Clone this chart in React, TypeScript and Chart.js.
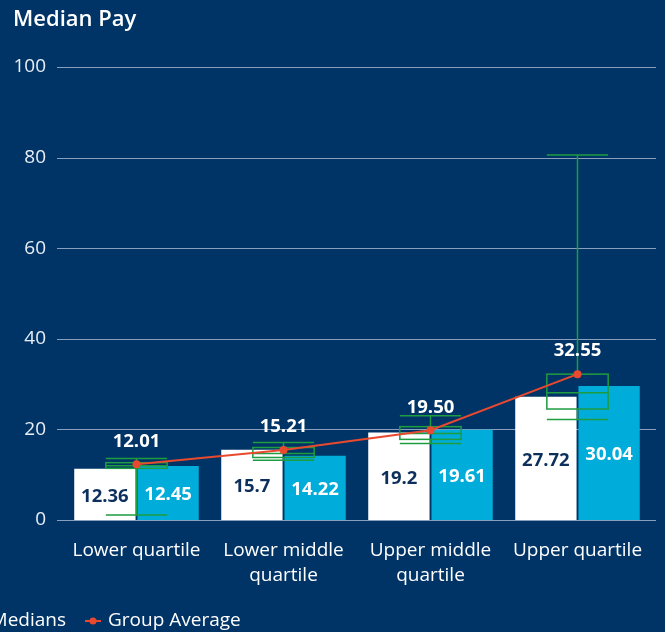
import React, { useEffect, useRef } from "react";
import { Chart, registerables } from "chart.js";
Chart.register(...registerables);

const categories = [["Lower quartile"], ["Lower middle", "quartile"], ["Upper middle", "quartile"], ["Upper quartile"]];
const yTicks = [0, 20, 40, 60, 80, 100];
const seriesAValues = [11.3, 15.5, 19.3, 27.2];
const seriesALabels = ["12.36", "15.7", "19.2", "27.72"];
const seriesBValues = [11.9, 14.2, 19.9, 29.6];
const seriesBLabels = ["12.45", "14.22", "19.61", "30.04"];
const groupAverage = [12.3, 15.45, 19.8, 32.2];
const groupAverageLabels = ["12.01", "15.21", "19.50", "32.55"];
const boxMin = [1.1, 13.2, 16.9, 22.2];
const boxQ1 = [11.4, 13.8, 17.8, 24.5];
const boxMedian = [12.0, 14.7, 19.1, 28.1];
const boxQ3 = [12.65, 16.0, 20.6, 32.2];
const boxMax = [13.6, 17.1, 23.0, 80.6];

const BG = "#003466";
const BLUE = "#00acd9";
const GREEN = "#1d9c40";
const RED = "#e8492f";
const FONT = "'Open Sans'";

const customPlugin = {
  id: "customDraw",
  beforeDatasetsDraw(chart: any) {
    const { ctx, chartArea, scales } = chart;
    ctx.save();
    ctx.strokeStyle = "rgba(160,180,205,0.85)";
    ctx.lineWidth = 1.2;
    yTicks.forEach((v) => {
      const y = Math.round(scales.y.getPixelForValue(v)) + 0.5;
      ctx.beginPath();
      ctx.moveTo(chartArea.left - 6, y);
      ctx.lineTo(chartArea.right + 5, y);
      ctx.stroke();
    });
    ctx.restore();
  },
  afterDatasetDraw(chart: any, args: any) {
    if (args.index !== 0) return;
    const { ctx, scales } = chart;
    const meta = chart.getDatasetMeta(0);
    ctx.save();
    ctx.strokeStyle = GREEN;
    ctx.lineWidth = 1.5;
    categories.forEach((_, i) => {
      const x = scales.x.getPixelForValue(i);
      const w = meta.data[i].width;
      const yMin = scales.y.getPixelForValue(boxMin[i]);
      const yQ1 = scales.y.getPixelForValue(boxQ1[i]);
      const yMed = scales.y.getPixelForValue(boxMedian[i]);
      const yQ3 = scales.y.getPixelForValue(boxQ3[i]);
      const yMax = scales.y.getPixelForValue(boxMax[i]);
      ctx.beginPath();
      ctx.moveTo(x, yMax);
      ctx.lineTo(x, yQ3);
      ctx.moveTo(x, yQ1);
      ctx.lineTo(x, yMin);
      ctx.moveTo(x - w / 2, yMax);
      ctx.lineTo(x + w / 2, yMax);
      ctx.moveTo(x - w / 2, yMin);
      ctx.lineTo(x + w / 2, yMin);
      ctx.moveTo(x - w / 2, yMed);
      ctx.lineTo(x + w / 2, yMed);
      ctx.stroke();
      ctx.strokeRect(x - w / 2, yQ3, w, yQ1 - yQ3);
    });
    ctx.restore();
  },
  afterDatasetsDraw(chart: any) {
    const { ctx, scales } = chart;
    ctx.save();
    ctx.textAlign = "center";
    ctx.textBaseline = "middle";
    ctx.font = `bold 18.5px ${FONT}`;
    const metaA = chart.getDatasetMeta(0);
    const metaB = chart.getDatasetMeta(1);
    const y0 = scales.y.getPixelForValue(0);
    categories.forEach((_, i) => {
      const a = metaA.data[i];
      ctx.fillStyle = "#0d2f5c";
      ctx.fillText(seriesALabels[i], a.x, (a.y + y0) / 2 + 2);
      const b = metaB.data[i];
      ctx.fillStyle = "#ffffff";
      ctx.fillText(seriesBLabels[i], b.x, (b.y + y0) / 2 + 2);
      const x = scales.x.getPixelForValue(i);
      const ya = scales.y.getPixelForValue(groupAverage[i]);
      ctx.fillText(groupAverageLabels[i], x, ya - 23);
    });
    ctx.restore();
  },
  afterDraw(chart: any) {
    const { ctx } = chart;
    ctx.save();
    ctx.fillStyle = "#ffffff";
    ctx.textBaseline = "middle";
    ctx.textAlign = "left";
    ctx.font = `600 22px ${FONT}`;
    ctx.fillText("Median Pay", 13, 20);
    // legend
    ctx.font = `19px ${FONT}`;
    ctx.textAlign = "right";
    ctx.fillText("Medians", 66, 621);
    ctx.strokeStyle = RED;
    ctx.lineWidth = 2;
    ctx.beginPath();
    ctx.moveTo(85, 621);
    ctx.lineTo(101, 621);
    ctx.stroke();
    ctx.fillStyle = RED;
    ctx.beginPath();
    ctx.arc(93, 621, 3.5, 0, Math.PI * 2);
    ctx.fill();
    ctx.fillStyle = "#ffffff";
    ctx.textAlign = "left";
    ctx.fillText("Group Average", 108, 621);
    ctx.restore();
  },
};

export default function App() {
  const ref = useRef<HTMLCanvasElement>(null);
  useEffect(() => {
    if (!ref.current) return;
    const chart = new Chart(ref.current, {
      type: "bar",
      data: {
        labels: categories as any,
        datasets: [
          {
            type: "bar",
            label: "Medians",
            data: seriesAValues,
            backgroundColor: "#ffffff",
            categoryPercentage: 0.86,
            barPercentage: 0.97,
            order: 0,
          },
          {
            type: "bar",
            label: "Medians B",
            data: seriesBValues,
            backgroundColor: BLUE,
            categoryPercentage: 0.86,
            barPercentage: 0.97,
            order: 0,
          },
          {
            type: "line",
            label: "Group Average",
            data: groupAverage,
            borderColor: RED,
            backgroundColor: RED,
            borderWidth: 2,
            pointRadius: 4,
            pointBackgroundColor: RED,
            pointBorderWidth: 0,
            order: -1,
          } as any,
        ],
      },
      options: {
        animation: false,
        responsive: false,
        maintainAspectRatio: false,
        layout: { padding: { top: 67, bottom: 37, left: 0, right: 14 } },
        plugins: { legend: { display: false }, tooltip: { enabled: false }, title: { display: false } },
        scales: {
          x: {
            grid: { display: false, drawTicks: false },
            border: { display: false },
            ticks: { color: "#ffffff", font: { family: FONT, size: 19, lineHeight: 1.27 }, padding: 19, maxRotation: 0 },
            afterFit: (s: any) => { s.height = 75; },
          },
          y: {
            min: 0,
            max: 100,
            grid: { display: false, drawTicks: false },
            border: { display: false },
            ticks: { stepSize: 20, color: "#e8eef5", font: { family: FONT, size: 19 }, padding: 17 },
            afterFit: (s: any) => { s.width = 63; },
          },
        },
      },
      plugins: [customPlugin],
    });
    return () => chart.destroy();
  }, []);
  return (
    <div style={{ position: "fixed", left: 0, top: 0, width: 665, height: 632, background: BG, overflow: "hidden" }}>
      <canvas ref={ref} width={665} height={632} style={{ display: "block" }} />
    </div>
  );
}
